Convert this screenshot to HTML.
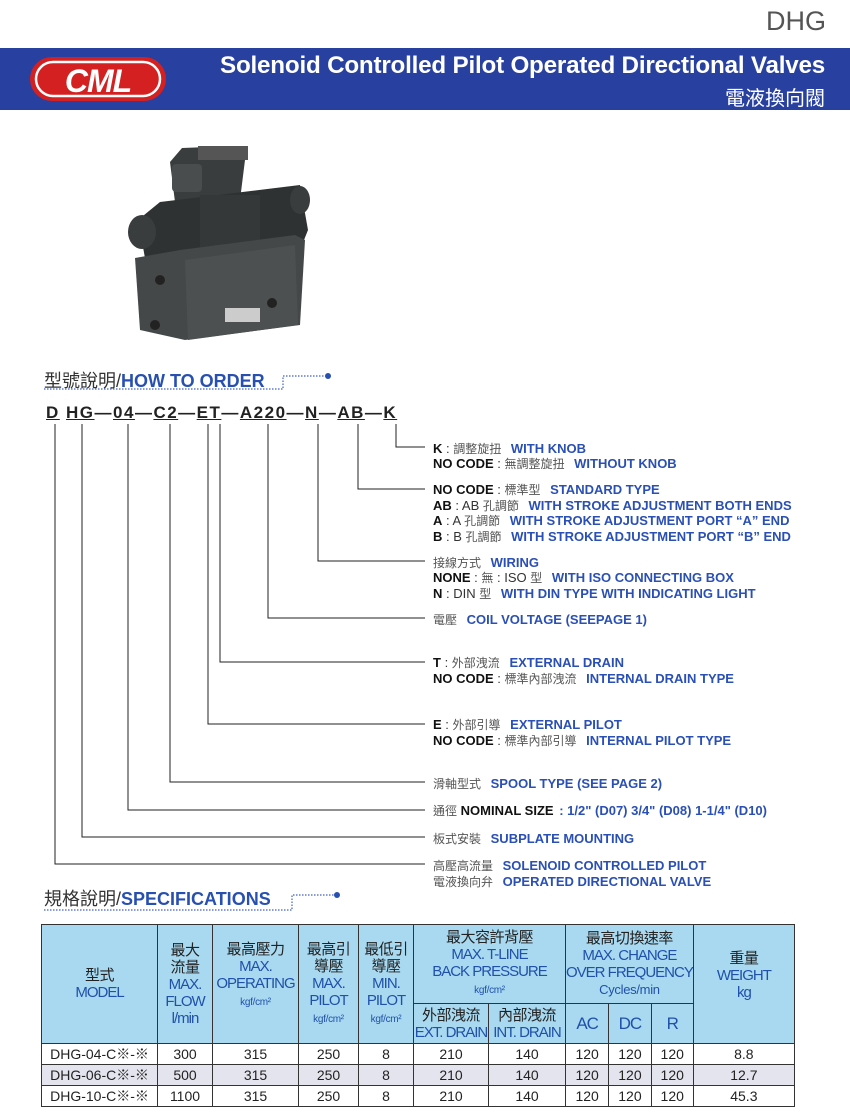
<!DOCTYPE html>
<html><head><meta charset="utf-8">
<style>
body{margin:0;width:850px;height:1118px;background:#fff;position:relative;overflow:hidden;font-family:"Liberation Sans","Noto Sans CJK TC",sans-serif;}
.a{position:absolute;white-space:nowrap;}
.l{position:absolute;left:433px;font-size:13px;line-height:15px;white-space:nowrap;color:#333;}
.l b{color:#111;}
.l span{color:#2a4fb5;font-weight:bold;margin-left:6px;}
.l i{font-style:normal;color:#555;font-size:12px;}
table{position:absolute;left:41px;top:924px;border-collapse:collapse;table-layout:fixed;font-family:"Liberation Sans","Noto Sans CJK TC",sans-serif;}
td{border:1px solid #333;text-align:center;padding:0;white-space:nowrap;overflow:hidden;}
thead td{background:#a8d9f0;color:#2050aa;font-size:15px;line-height:17px;letter-spacing:-1px;}
thead td .c{color:#222;font-size:15px;letter-spacing:-0.5px;}
thead td small{font-size:10px;letter-spacing:-0.3px;}
tbody td{font-size:14px;color:#222;height:20px;line-height:20px;}
tbody tr:nth-child(2) td{background:#e4e4ee;}
</style></head><body>
<div class="a" style="right:24px;top:6px;font-size:27px;color:#555;">DHG</div>
<div class="a" style="left:0;top:48px;width:850px;height:62px;background:#2840a0;"></div>
<svg class="a" style="left:28px;top:54px" width="140" height="50" viewBox="0 0 140 50">
<rect x="2" y="3" width="136" height="44" rx="22" fill="#d42020"/>
<rect x="8" y="8" width="124" height="34" rx="17" fill="none" stroke="#fff" stroke-width="2.5"/>
<text x="70" y="38" text-anchor="middle" font-family="Liberation Sans" font-weight="bold" font-style="italic" font-size="32" fill="#fff" letter-spacing="-1">CML</text>
</svg>
<div class="a" style="right:25px;top:52px;font-size:24.2px;font-weight:bold;color:#fff;letter-spacing:-0.2px;">Solenoid Controlled Pilot Operated Directional Valves</div>
<div class="a" style="right:25px;top:82px;font-size:20px;color:#fff;">電液換向閥</div>

<svg class="a" style="left:120px;top:140px" width="200" height="210" viewBox="0 0 200 210">
<polygon points="50,22 62,8 115,6 125,20 120,60 55,62" fill="#3a3d3d"/>
<rect x="78" y="6" width="50" height="14" fill="#555"/>
<rect x="52" y="24" width="30" height="28" rx="4" fill="#4a4d4d"/>
<polygon points="18,80 40,62 180,45 188,90 180,110 25,118" fill="#2f3232"/>
<rect x="80" y="55" width="60" height="60" fill="#353838"/>
<ellipse cx="22" cy="92" rx="14" ry="17" fill="#3a3d3d"/>
<ellipse cx="180" cy="60" rx="10" ry="14" fill="#3a3d3d"/>
<polygon points="15,118 60,110 175,95 185,100 180,185 65,200 20,190" fill="#454848"/>
<polygon points="65,120 175,105 178,185 68,200" fill="#4d5050"/>
<rect x="105" y="168" width="35" height="14" fill="#ccc"/>
<circle cx="152" cy="163" r="5" fill="#222"/><circle cx="40" cy="140" r="5" fill="#222"/><circle cx="35" cy="185" r="5" fill="#222"/>
</svg>

<div class="a" style="left:44px;top:367px;font-size:18px;color:#333;">型號說明/<b style="color:#2850b0">HOW TO ORDER</b></div>
<svg class="a" style="left:0;top:360px" width="850" height="40">
<path d="M44 29 H283 V16 H325" stroke="#4060c0" stroke-width="1.2" stroke-dasharray="1.5 1.5" fill="none"/>
<circle cx="328" cy="16" r="3" fill="#2850b0"/>
</svg>
<div class="a" style="left:46px;top:403px;font-size:17px;font-weight:bold;color:#222;letter-spacing:1.5px;"><u>D</u> <u>HG</u>—<u>04</u>—<u>C2</u>—<u>ET</u>—<u>A220</u>—<u>N</u>—<u>AB</u>—<u>K</u></div>
<svg class="a" style="left:0;top:0" width="850" height="1118">
<g stroke="#222" stroke-width="1" fill="none">
<path d="M396 424 V447 H425"/>
<path d="M358 424 V489 H425"/>
<path d="M318 424 V561 H425"/>
<path d="M268 424 V618 H425"/>
<path d="M220 424 V662 H425"/>
<path d="M208 424 V724 H425"/>
<path d="M170 424 V782 H425"/>
<path d="M128 424 V810 H425"/>
<path d="M82 424 V837 H425"/>
<path d="M55 424 V864 H425"/>
</g>
<path d="M44 910 H292 V895 H335" stroke="#4060c0" stroke-width="1.2" stroke-dasharray="1.5 1.5" fill="none"/>
<circle cx="337" cy="895" r="3" fill="#2850b0"/>
</svg>

<div class="l" style="top:441px"><b>K</b> : <i>調整旋扭</i> <span>WITH KNOB</span></div>
<div class="l" style="top:456px"><b>NO CODE</b> : <i>無調整旋扭</i> <span>WITHOUT KNOB</span></div>
<div class="l" style="top:482px"><b>NO CODE</b> : <i>標準型</i> <span>STANDARD TYPE</span></div>
<div class="l" style="top:498px"><b>AB</b> : AB <i>孔調節</i> <span>WITH STROKE ADJUSTMENT BOTH ENDS</span></div>
<div class="l" style="top:513px"><b>A</b> : A <i>孔調節</i> <span>WITH STROKE ADJUSTMENT PORT “A” END</span></div>
<div class="l" style="top:529px"><b>B</b> : B <i>孔調節</i> <span>WITH STROKE ADJUSTMENT PORT “B” END</span></div>
<div class="l" style="top:555px"><i>接線方式</i> <span>WIRING</span></div>
<div class="l" style="top:570px"><b>NONE</b> : <i>無</i> : ISO <i>型</i> <span>WITH ISO CONNECTING BOX</span></div>
<div class="l" style="top:586px"><b>N</b> : DIN <i>型</i> <span>WITH DIN TYPE WITH INDICATING LIGHT</span></div>
<div class="l" style="top:612px"><i>電壓</i> <span>COIL VOLTAGE (SEEPAGE 1)</span></div>
<div class="l" style="top:655px"><b>T</b> : <i>外部洩流</i> <span>EXTERNAL DRAIN</span></div>
<div class="l" style="top:671px"><b>NO CODE</b> : <i>標準內部洩流</i> <span>INTERNAL DRAIN TYPE</span></div>
<div class="l" style="top:717px"><b>E</b> : <i>外部引導</i> <span>EXTERNAL PILOT</span></div>
<div class="l" style="top:733px"><b>NO CODE</b> : <i>標準內部引導</i> <span>INTERNAL PILOT TYPE</span></div>
<div class="l" style="top:776px"><i>滑軸型式</i> <span>SPOOL TYPE (SEE PAGE 2)</span></div>
<div class="l" style="top:803px"><i>通徑</i> <b>NOMINAL SIZE</b> <span style="margin-left:2px">: 1/2" (D07) 3/4" (D08) 1-1/4" (D10)</span></div>
<div class="l" style="top:831px"><i>板式安裝</i> <span>SUBPLATE MOUNTING</span></div>
<div class="l" style="top:858px"><i>高壓高流量</i> <span>SOLENOID CONTROLLED PILOT</span></div>
<div class="l" style="top:874px"><i>電液換向弁</i> <span>OPERATED DIRECTIONAL VALVE</span></div>

<div class="a" style="left:44px;top:885px;font-size:18px;color:#333;">規格說明/<b style="color:#2850b0">SPECIFICATIONS</b></div>

<table>
<colgroup><col style="width:116px"><col style="width:55px"><col style="width:86px"><col style="width:60px"><col style="width:55px"><col style="width:75px"><col style="width:77px"><col style="width:42px"><col style="width:41px"><col style="width:41px"><col style="width:101px"></colgroup>
<thead>
<tr style="height:79px">
<td rowspan="2"><span class="c">型式</span><br>MODEL</td>
<td rowspan="2"><span class="c">最大<br>流量</span><br>MAX.<br>FLOW<br>l/min</td>
<td rowspan="2"><span class="c">最高壓力</span><br>MAX.<br>OPERATING<br><small>kgf/cm²</small><br><br></td>
<td rowspan="2"><span class="c">最高引<br>導壓</span><br>MAX.<br>PILOT<br><small>kgf/cm²</small></td>
<td rowspan="2"><span class="c">最低引<br>導壓</span><br>MIN.<br>PILOT<br><small>kgf/cm²</small></td>
<td colspan="2"><span class="c">最大容許背壓</span><br>MAX. T-LINE<br>BACK PRESSURE<br><small>kgf/cm²</small></td>
<td colspan="3"><span class="c">最高切換速率</span><br>MAX. CHANGE<br>OVER FREQUENCY<br><small style="font-size:13px">Cycles/min</small></td>
<td rowspan="2"><span class="c">重量</span><br>WEIGHT<br>kg<br><br></td>
</tr>
<tr style="height:40px">
<td><span class="c">外部洩流</span><br>EXT. DRAIN</td>
<td><span class="c">內部洩流</span><br>INT. DRAIN</td>
<td style="font-size:17px">AC</td><td style="font-size:17px">DC</td><td style="font-size:17px">R</td>
</tr>
</thead>
<tbody>
<tr><td>DHG-04-C※-※</td><td>300</td><td>315</td><td>250</td><td>8</td><td>210</td><td>140</td><td>120</td><td>120</td><td>120</td><td>8.8</td></tr>
<tr><td>DHG-06-C※-※</td><td>500</td><td>315</td><td>250</td><td>8</td><td>210</td><td>140</td><td>120</td><td>120</td><td>120</td><td>12.7</td></tr>
<tr><td>DHG-10-C※-※</td><td>1100</td><td>315</td><td>250</td><td>8</td><td>210</td><td>140</td><td>120</td><td>120</td><td>120</td><td>45.3</td></tr>
</tbody>
</table>
</body></html>
